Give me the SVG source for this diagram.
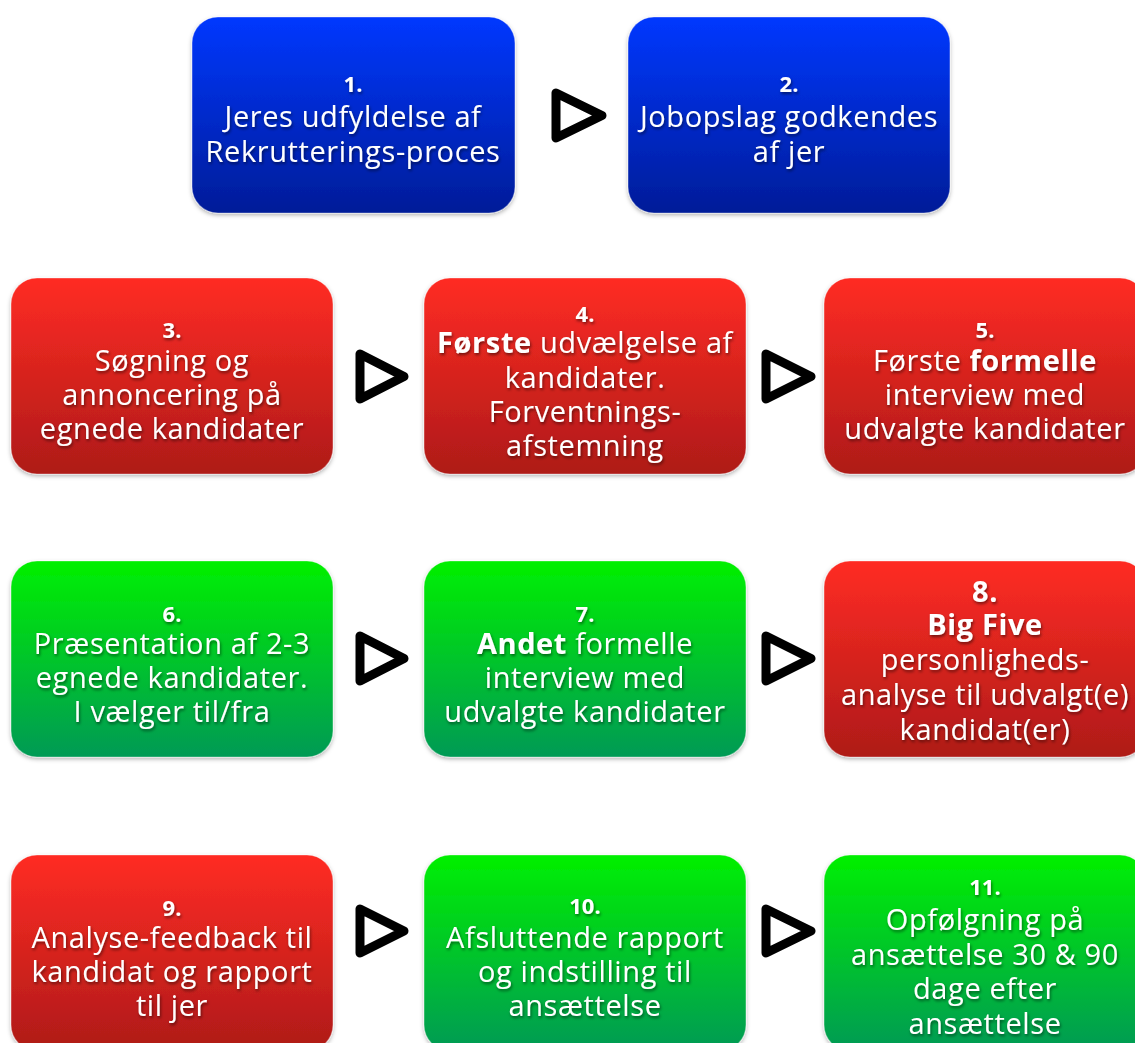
<svg xmlns="http://www.w3.org/2000/svg" width="1135" height="1043" viewBox="0 0 1135 1043">
<defs>
<linearGradient id="gBlue" x1="0" y1="0" x2="0" y2="1"><stop offset="0" stop-color="#0538ff"/><stop offset="1" stop-color="#001c98"/></linearGradient>
<linearGradient id="gRed" x1="0" y1="0" x2="0" y2="1"><stop offset="0" stop-color="#ff2c24"/><stop offset="1" stop-color="#ae1a18"/></linearGradient>
<linearGradient id="gGreen" x1="0" y1="0" x2="0" y2="1"><stop offset="0" stop-color="#00f000"/><stop offset="1" stop-color="#009a55"/></linearGradient>
<filter id="ts" x="-10%" y="-30%" width="120%" height="160%"><feDropShadow dx="1" dy="2" stdDeviation="1.5" flood-color="#000" flood-opacity="0.5"/></filter>
<filter id="bs" x="-5%" y="-5%" width="110%" height="115%"><feDropShadow dx="0" dy="2" stdDeviation="2" flood-color="#000" flood-opacity="0.3"/></filter>
</defs>
<style>
.box{stroke:#ffffff;stroke-opacity:0.35;stroke-width:1.2;filter:url(#bs)}
.blue{fill:url(#gBlue)}
.red{fill:url(#gRed)}
.green{fill:url(#gGreen)}
text{font-family:"Open Sans","Noto Sans","DejaVu Sans",sans-serif;fill:#fff;text-anchor:middle;font-size:29px;letter-spacing:0.6px;filter:url(#ts)}
.num{font-weight:bold;font-size:22px;letter-spacing:0}
.b{font-weight:bold}
.arr{fill:#fff;stroke:#000;stroke-width:9;stroke-linejoin:round}
</style>
<rect width="1135" height="1043" fill="#fff"/>
<g id="connectors">
<path class="arr" d="M556,93 L556,138 L602,115.5 Z"/>
<path class="arr" d="M360,354 L360,399 L404,376.5 Z"/>
<path class="arr" d="M766,354 L766,399 L811,376.5 Z"/>
<path class="arr" d="M360,636 L360,681 L404,658.5 Z"/>
<path class="arr" d="M766,636 L766,681 L811,658.5 Z"/>
<path class="arr" d="M360,909 L360,953 L404,931 Z"/>
<path class="arr" d="M766,909 L766,953 L811,931 Z"/>
</g>
<g id="n1"><rect class="box blue" x="192" y="17" width="323" height="196" rx="26"/>
<text x="353" y="92" class="num">1.</text><text x="353" y="127">Jeres udfyldelse af</text><text x="353" y="162">Rekrutterings-proces</text></g>
<g id="n2"><rect class="box blue" x="628" y="17" width="322" height="196" rx="26"/>
<text x="789" y="92" class="num">2.</text><text x="789" y="127">Jobopslag godkendes</text><text x="789" y="162">af jer</text></g>
<g id="n3"><rect class="box red" x="11" y="278" width="322" height="196" rx="26"/>
<text x="172" y="338" class="num">3.</text><text x="172" y="371">Søgning og</text><text x="172" y="405">annoncering på</text><text x="172" y="439">egnede kandidater</text></g>
<g id="n4"><rect class="box red" x="424" y="278" width="322" height="196" rx="26"/>
<text x="585" y="322" class="num">4.</text><text x="585" y="353"><tspan class="b">Første</tspan> udvælgelse af</text><text x="585" y="388">kandidater.</text><text x="585" y="422">Forventnings-</text><text x="585" y="456">afstemning</text></g>
<g id="n5"><rect class="box red" x="824" y="278" width="322" height="196" rx="26"/>
<text x="985" y="338" class="num">5.</text><text x="985" y="371">Første <tspan class="b">formelle</tspan></text><text x="985" y="405">interview med</text><text x="985" y="439">udvalgte kandidater</text></g>
<g id="n6"><rect class="box green" x="11" y="561" width="322" height="196" rx="26"/>
<text x="172" y="622" class="num">6.</text><text x="172" y="654">Præsentation af 2-3</text><text x="172" y="688">egnede kandidater.</text><text x="172" y="722">I vælger til/fra</text></g>
<g id="n7"><rect class="box green" x="424" y="561" width="322" height="196" rx="26"/>
<text x="585" y="622" class="num">7.</text><text x="585" y="654"><tspan class="b">Andet</tspan> formelle</text><text x="585" y="688">interview med</text><text x="585" y="722">udvalgte kandidater</text></g>
<g id="n8"><rect class="box red" x="824" y="561" width="322" height="196" rx="26"/>
<text x="985" y="602" class="b">8.</text><text x="985" y="635" class="b">Big Five</text><text x="985" y="670">personligheds-</text><text x="985" y="705">analyse til udvalgt(e)</text><text x="985" y="740">kandidat(er)</text></g>
<g id="n9"><rect class="box red" x="11" y="855" width="322" height="196" rx="26"/>
<text x="172" y="916" class="num">9.</text><text x="172" y="948">Analyse-feedback til</text><text x="172" y="982">kandidat og rapport</text><text x="172" y="1016">til jer</text></g>
<g id="n10"><rect class="box green" x="424" y="855" width="322" height="196" rx="26"/>
<text x="585" y="914" class="num">10.</text><text x="585" y="948">Afsluttende rapport</text><text x="585" y="982">og indstilling til</text><text x="585" y="1016">ansættelse</text></g>
<g id="n11"><rect class="box green" x="824" y="855" width="322" height="196" rx="26"/>
<text x="985" y="895" class="num">11.</text><text x="985" y="930">Opfølgning på</text><text x="985" y="965">ansættelse 30 &amp; 90</text><text x="985" y="999">dage efter</text><text x="985" y="1034">ansættelse</text></g>
</svg>
